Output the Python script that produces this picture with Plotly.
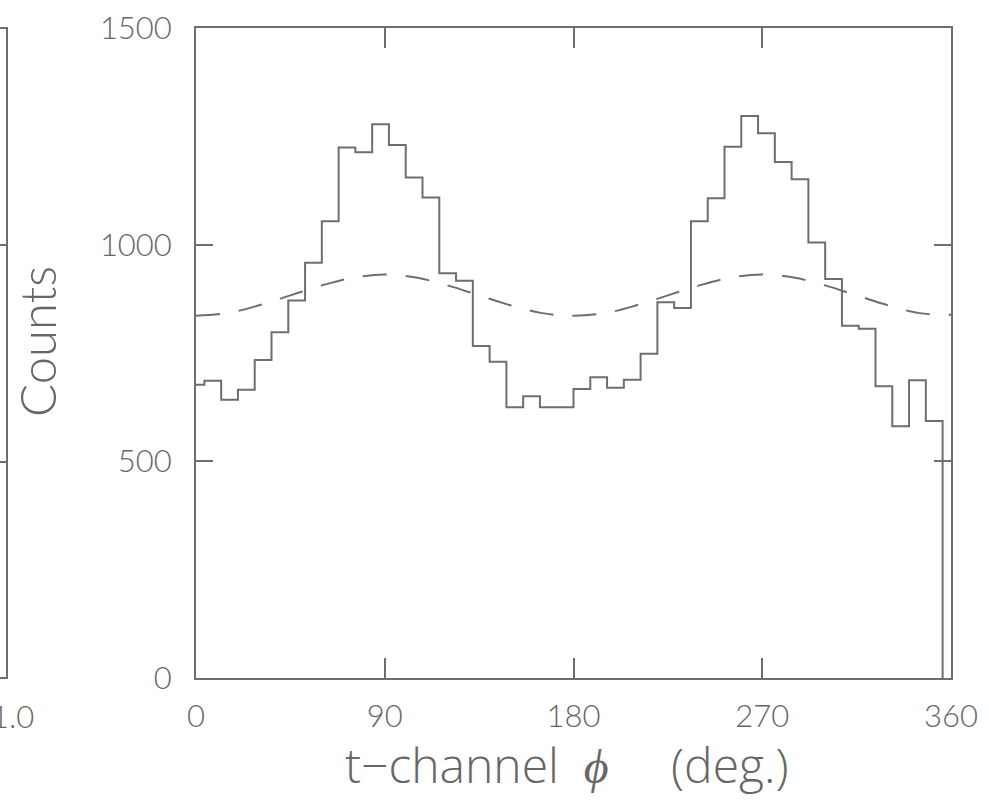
import plotly.graph_objects as go

# ---- data ----
bin_left_edges = [0, 4, 12, 20, 28, 36, 44, 52, 60, 68, 76, 84, 92, 100, 108, 116,
                  124, 132, 140, 148, 156, 164, 172, 180, 188, 196, 204, 212, 220,
                  228, 236, 244, 252, 260, 268, 276, 284, 292, 300, 308, 316, 324,
                  332, 340, 348]
hist_end = 356
counts = [677, 686, 642, 665, 734, 798, 871, 958, 1054, 1224, 1213, 1278, 1230,
          1155, 1109, 934, 917, 766, 730, 625, 650, 625, 625, 667, 694, 670, 688,
          748, 867, 854, 1054, 1107, 1226, 1297, 1257, 1191, 1151, 1005, 921, 813,
          806, 673, 581, 687, 593]

fit_phi = [0, 15, 30, 45, 60, 75, 90, 105, 120, 135, 150, 165, 180,
           195, 210, 225, 240, 255, 270, 285, 300, 315, 330, 345, 360]
fit_counts = [836, 842, 860, 883, 906, 924, 931, 924, 906, 883, 860, 842, 836,
              842, 860, 883, 906, 924, 931, 924, 906, 883, 860, 842, 838]

x_ticks = [0, 90, 180, 270, 360]
y_ticks = [0, 500, 1000, 1500]

W, H = 989, 800
LINE = "#6e6e6e"
TEXT = "#666666"
FONT = "Lato"
TITLE_FONT = "Open Sans"

fig = go.Figure()
fig.add_trace(go.Scatter(
    x=bin_left_edges + [hist_end], y=counts + [0],
    mode="lines", line=dict(shape="hv", color=LINE, width=2),
    showlegend=False, hoverinfo="skip"))
fig.add_trace(go.Scatter(
    x=fit_phi, y=fit_counts, mode="lines",
    line=dict(shape="spline", color=LINE, width=2, dash="24px,19px"),
    showlegend=False, hoverinfo="skip"))

x0, x1 = 196, 951
y0, y1 = 678, 28

axis_common = dict(showline=True, linecolor=LINE, linewidth=2, mirror="allticks",
                   ticks="inside", tickcolor=LINE, tickwidth=2, showgrid=False,
                   zeroline=False, automargin=False,
                   tickfont=dict(family=FONT, size=31, color=TEXT, weight=300))

fig.update_layout(
    width=W, height=H,
    margin=dict(l=0, r=0, t=0, b=0, autoexpand=False),
    paper_bgcolor="white", plot_bgcolor="white",
    xaxis=dict(domain=[x0 / W, x1 / W], range=[0, 360], tickmode="array",
               tickvals=x_ticks, ticktext=[str(v) for v in x_ticks], ticklen=20,
               ticklabelstandoff=10, **axis_common),
    yaxis=dict(domain=[1 - y0 / H, 1 - y1 / H], range=[0, 1500], tickmode="array",
               tickvals=y_ticks, ticktext=[str(v) for v in y_ticks], ticklen=17,
               ticklabelstandoff=16, **axis_common),
)

# x-axis title and y-axis title as annotations
fig.add_annotation(xref="paper", yref="paper", x=566 / W, y=1 - 764 / H,
                   text="t\u2212channel\u00a0\u00a0<i>\u03d5</i>\u00a0\u00a0\u00a0\u00a0\u00a0(deg.)",
                   showarrow=False, xanchor="center", yanchor="middle",
                   font=dict(family=TITLE_FONT, size=48, color=TEXT, weight=300))
fig.add_annotation(xref="paper", yref="paper", x=37 / W, y=1 - 342 / H,
                   text="Counts", textangle=-90, showarrow=False,
                   xanchor="center", yanchor="middle",
                   font=dict(family=FONT, size=49, color=TEXT, weight=300))

# neighbouring (cropped) panel at the left edge
lp = 7
fig.add_shape(type="path", xref="paper", yref="paper",
              path=f"M {-5 / W} {1 - y1 / H} L {lp / W} {1 - y1 / H} "
                   f"L {lp / W} {1 - y0 / H} L {-5 / W} {1 - y0 / H}",
              line=dict(color=LINE, width=2))
for yv in [245, 462]:
    fig.add_shape(type="line", xref="paper", yref="paper",
                  x0=-5 / W, x1=lp / W, y0=1 - yv / H, y1=1 - yv / H,
                  line=dict(color=LINE, width=2))
fig.add_annotation(xref="paper", yref="paper", x=36 / W, y=1 - 716 / H,
                   text="1.0", showarrow=False, xanchor="right", yanchor="middle",
                   font=dict(family=FONT, size=31, color=TEXT, weight=300))

fig.write_html("out.html")
